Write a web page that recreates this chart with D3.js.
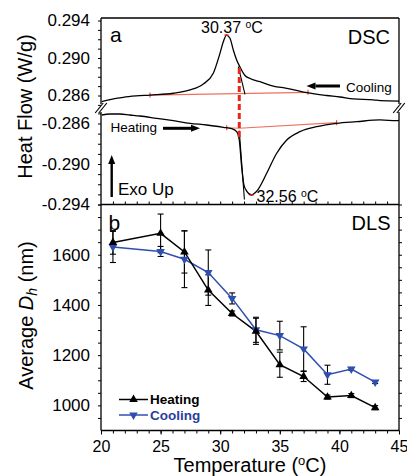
<!DOCTYPE html>
<html><head><meta charset="utf-8">
<script src="https://cdn.jsdelivr.net/npm/d3@7"></script>
<style>
html,body{margin:0;padding:0;background:#fff;}
svg{display:block;font-family:"Liberation Sans",Arial,Helvetica,sans-serif;}
</style></head>
<body>
<svg id="chart" width="407" height="476"></svg>
<script>
// ---------------- DATA ----------------
// DSC cooling scan (upper branch) : temperature (°C), heat flow (W/g)
const dscCoolT = [20.06,20.76,21.87,22.94,24.11,26.07,27.47,28.58,29.42,29.98,30.26,30.53,30.82,31.10,31.38,31.66,32.08,32.50,33.34,34.45,35.58,37.26,38.93,40.05,41.17,42.84,43.41,45.0];
const dscCoolQ = [0.28534,0.28557,0.28581,0.28595,0.28605,0.28624,0.28659,0.28723,0.28837,0.29050,0.29174,0.29245,0.29210,0.29085,0.28979,0.28904,0.28813,0.28781,0.28747,0.28701,0.28677,0.28630,0.28600,0.28584,0.28563,0.28554,0.28545,0.28541];
// DSC heating scan (lower branch)
const dscHeatT = [20.06,20.76,21.59,22.43,23.27,24.67,26.07,27.47,28.87,30.26,30.96,31.38,31.60,31.80,31.99,32.22,32.64,32.95,33.20,33.90,34.74,35.58,36.69,38.10,39.77,41.45,43.41,44.81,45.0];
const dscHeatQ = [-0.28516,-0.28506,-0.28506,-0.28516,-0.28526,-0.28549,-0.28572,-0.28598,-0.28615,-0.28638,-0.28651,-0.28681,-0.28763,-0.29027,-0.29207,-0.29267,-0.29306,-0.29282,-0.29247,-0.29092,-0.28894,-0.28763,-0.28681,-0.28632,-0.28598,-0.28582,-0.28565,-0.28572,-0.28570];
// baselines (red) and onset tangents
const coolBaseT = [24.11, 37.37];
const coolBaseQ = [0.28605, 0.28634];
const heatBaseT = [30.55, 31.60, 39.77];
const heatBaseQ = [-0.28642, -0.28647, -0.28592];
const coolTanT = [31.52, 32.08];
const coolTanQ = [0.28907, 0.28613];
const heatTanT = [31.60, 32.03];
const heatTanQ = [-0.28670, -0.29350];
const onsetT = 31.60;
const onsetQ = [0.28893, -0.28733];
const peakCool = {t:30.53, q:0.29245, label:"30.37"};
const peakHeat = {t:32.64, q:-0.29306, label:"32.56"};

// DLS
const dlsTemps   = [21,25,27,29,31,33,35,37,39,41,43];
const heatingDh  = [1649,1685,1611,1459,1366,1295,1162,1115,1033,1039,991];
const heatingErr = [47,77,84,61,10,52,50,20,8,8,8];
const coolingDh  = [1631,1613,1582,1529,1426,1301,1278,1225,1122,1145,1093];
const coolingErr = [62,20,113,90,22,50,57,88,38,6,6];

// ticks
const xMajorTicks = [20,25,30,35,40,45];
const upTickLabels = [0.286,0.290,0.294];
const lowTickLabels = [-0.286,-0.290,-0.294];
const dlsTickLabels = [1000,1200,1400,1600];

// ---------------- LAYOUT ----------------
const L=101, R=399, T0=18, BRK=108, MID=204.5, B=430.5;
const svg = d3.select("#chart");
const x = d3.scaleLinear().domain([20,45]).range([L,R]);
const yUp = d3.scaleLinear().domain([0.286,0.294]).range([95.5,20.5]);
const yLow = d3.scaleLinear().domain([-0.286,-0.294]).range([123.5,204.5]);
const yD = d3.scaleLinear().domain([900,1800]).range([B,MID]);

const BLUE = "#2f4fb0", RED = "#e8261c", SALMON = "#f0705e";

// clip paths
const defs = svg.append("defs");
defs.append("clipPath").attr("id","cUp").append("rect").attr("x",L).attr("y",T0).attr("width",R-L).attr("height",BRK-T0);
defs.append("clipPath").attr("id","cLow").append("rect").attr("x",L).attr("y",BRK).attr("width",R-L).attr("height",MID-BRK);

// ---------------- AXES ----------------
function styleAxis(g){
  g.select(".domain").remove();
  g.selectAll(".tick line").attr("stroke","#000").attr("stroke-width",1);
  g.selectAll(".tick text").attr("fill","#000").attr("font-family","'Liberation Sans',Arial,sans-serif");
}
const fmt3 = d=>d3.format(".3f")(d).replace("\u2212","-");
// top panel left axis, upper segment
const upTicks = d3.range(0.285,0.29401,0.001).map(v=>+v.toFixed(3));
svg.append("g").attr("transform",`translate(${L},0)`)
  .call(d3.axisLeft(yUp).tickValues(upTicks).tickSize(3).tickPadding(8)
    .tickFormat(d=>upTickLabels.some(v=>Math.abs(v-d)<1e-6)?fmt3(d):""))
  .call(styleAxis).selectAll("text").attr("font-size",17);
const lowTicks = d3.range(-0.285,-0.29401,-0.001).map(v=>+v.toFixed(3));
svg.append("g").attr("transform",`translate(${L},0)`)
  .call(d3.axisLeft(yLow).tickValues(lowTicks).tickSize(3).tickPadding(8)
    .tickFormat(d=>lowTickLabels.some(v=>Math.abs(v-d)<1e-6)?fmt3(d):""))
  .call(styleAxis).selectAll("text").attr("font-size",17);

// ticks on shared boundary (pointing up into DSC panel)
svg.append("g").attr("transform",`translate(0,${MID})`)
  .call(d3.axisTop(x).tickValues(d3.range(21,45)).tickSize(3).tickFormat(""))
  .call(styleAxis);

// bottom x axis
svg.append("g").attr("transform",`translate(0,${B})`)
  .call(d3.axisBottom(x).tickValues(d3.range(20,46)).tickSize(3).tickFormat(""))
  .call(styleAxis);
svg.append("g").attr("transform",`translate(0,${B})`)
  .call(d3.axisBottom(x).tickValues(xMajorTicks).tickSize(4).tickPadding(6).tickFormat(d3.format("d")))
  .call(styleAxis).selectAll("text").attr("font-size",16);

// DLS left axis
svg.append("g").attr("transform",`translate(${L},0)`)
  .call(d3.axisLeft(yD).tickValues(d3.range(950,1801,50)).tickSize(3).tickPadding(8)
    .tickFormat(d=>dlsTickLabels.includes(d)?d:""))
  .call(styleAxis).selectAll("text").attr("font-size",17);
// DLS right axis
svg.append("g").attr("transform",`translate(${R},0)`)
  .call(d3.axisRight(yD).tickValues(d3.range(950,1801,50)).tickSize(3).tickFormat(""))
  .call(styleAxis);

// frames
const frame = svg.append("g").attr("stroke","#000").attr("stroke-width",1.3).attr("fill","none");
frame.append("line").attr("x1",L).attr("x2",R).attr("y1",T0).attr("y2",T0);
frame.append("line").attr("x1",L).attr("x2",R).attr("y1",MID).attr("y2",MID);
frame.append("line").attr("x1",L).attr("x2",R).attr("y1",B).attr("y2",B);
[L,R].forEach(xx=>{
  frame.append("line").attr("x1",xx).attr("x2",xx).attr("y1",T0).attr("y2",BRK-4);
  frame.append("line").attr("x1",xx).attr("x2",xx).attr("y1",BRK+4).attr("y2",B);
  // break marks //
  [-1.8,1.8].forEach(o=>{
    frame.append("line").attr("x1",xx-4+o).attr("y1",BRK+5).attr("x2",xx+4+o).attr("y2",BRK-5).attr("stroke-width",1.2);
  });
});

// ---------------- DSC ----------------
const lineUp = d3.line().x(d=>x(d[0])).y(d=>yUp(d[1])).curve(d3.curveMonotoneX);
const lineLow = d3.line().x(d=>x(d[0])).y(d=>yLow(d[1])).curve(d3.curveMonotoneX);
const straightUp = d3.line().x(d=>x(d[0])).y(d=>yUp(d[1]));
const straightLow = d3.line().x(d=>x(d[0])).y(d=>yLow(d[1]));

const gUp = svg.append("g").attr("clip-path","url(#cUp)");
const gLow = svg.append("g").attr("clip-path","url(#cLow)");

gUp.append("path").datum(d3.zip(coolBaseT,coolBaseQ)).attr("d",straightUp)
  .attr("fill","none").attr("stroke",SALMON).attr("stroke-width",1.2);
gLow.append("path").datum(d3.zip(heatBaseT,heatBaseQ)).attr("d",straightLow)
  .attr("fill","none").attr("stroke",SALMON).attr("stroke-width",1.2);
// baseline end ticks
[[coolBaseT[0],coolBaseQ[0]],[coolBaseT[1],coolBaseQ[1]]].forEach(p=>{
  gUp.append("line").attr("x1",x(p[0])).attr("x2",x(p[0])).attr("y1",yUp(p[1])-2.5).attr("y2",yUp(p[1])+2.5).attr("stroke",RED).attr("stroke-width",1);
});
[[heatBaseT[0],heatBaseQ[0]],[heatBaseT[2],heatBaseQ[2]]].forEach(p=>{
  gLow.append("line").attr("x1",x(p[0])).attr("x2",x(p[0])).attr("y1",yLow(p[1])-2.5).attr("y2",yLow(p[1])+2.5).attr("stroke",RED).attr("stroke-width",1);
});

gUp.append("path").datum(d3.zip(dscCoolT,dscCoolQ)).attr("d",lineUp)
  .attr("fill","none").attr("stroke","#000").attr("stroke-width",1.3);
gLow.append("path").datum(d3.zip(dscHeatT,dscHeatQ)).attr("d",lineLow)
  .attr("fill","none").attr("stroke","#000").attr("stroke-width",1.3);
gUp.append("path").datum(d3.zip(coolTanT,coolTanQ)).attr("d",straightUp)
  .attr("fill","none").attr("stroke","#000").attr("stroke-width",1.1);
gLow.append("path").datum(d3.zip(heatTanT,heatTanQ)).attr("d",straightLow)
  .attr("fill","none").attr("stroke","#000").attr("stroke-width",1.1);

// onset dashed red line
svg.append("line").attr("x1",x(onsetT)).attr("x2",x(onsetT))
  .attr("y1",yUp(onsetQ[0])).attr("y2",yLow(onsetQ[1]))
  .attr("stroke",RED).attr("stroke-width",3).attr("stroke-dasharray","6,3");

// peak markers
svg.append("line").attr("x1",x(peakCool.t)-2).attr("x2",x(peakCool.t)+2).attr("y1",yUp(peakCool.q)).attr("y2",yUp(peakCool.q)).attr("stroke",RED).attr("stroke-width",1.5);
svg.append("line").attr("x1",x(peakHeat.t)-2).attr("x2",x(peakHeat.t)+2).attr("y1",yLow(peakHeat.q)).attr("y2",yLow(peakHeat.q)).attr("stroke",RED).attr("stroke-width",1.5);

// peak labels
function degLabel(tx,ty,num,size){
  const t = svg.append("text").attr("x",tx).attr("y",ty).attr("font-size",size).attr("fill","#000");
  t.append("tspan").text(num+" ");
  t.append("tspan").attr("dy",-5).attr("font-size",size*0.65).text("o");
  t.append("tspan").attr("dy",5).text("C");
}
degLabel(201,33.3,peakCool.label,16);
degLabel(256.5,201.5,peakHeat.label,16);

// panel texts
svg.append("text").attr("x",110).attr("y",41.5).attr("font-size",21).text("a");
svg.append("text").attr("x",390).attr("y",43.5).attr("text-anchor","end").attr("font-size",20).text("DSC");
svg.append("text").attr("x",346).attr("y",91.5).attr("font-size",13.5).text("Cooling");
svg.append("text").attr("x",110.5).attr("y",131.5).attr("font-size",13.5).text("Heating");
svg.append("text").attr("x",118).attr("y",195).attr("font-size",17).text("Exo Up");

// arrows
function arrow(x1,y1,x2,y2,w,hl,hw){
  const a = Math.atan2(y2-y1,x2-x1);
  const bx = x2-hl*Math.cos(a), by = y2-hl*Math.sin(a);
  svg.append("line").attr("x1",x1).attr("y1",y1).attr("x2",bx).attr("y2",by).attr("stroke","#000").attr("stroke-width",w);
  const px = -Math.sin(a)*hw/2, py = Math.cos(a)*hw/2;
  svg.append("path").attr("d",`M${x2},${y2}L${bx+px},${by+py}L${bx-px},${by-py}Z`).attr("fill","#000");
}
arrow(340,86,306.5,86,3,9,7);
arrow(163,128.3,200,128.3,3,9,7);
arrow(111.7,197,111.7,155,2.4,9,7);

// ---------------- DLS ----------------
svg.append("text").attr("x",108.5).attr("y",230).attr("font-size",21).text("b");
svg.append("text").attr("x",390.5).attr("y",229.5).attr("text-anchor","end").attr("font-size",20).text("DLS");

const errG = svg.append("g").attr("stroke","#000").attr("stroke-width",1.1);
function errBars(vals,errs){
  dlsTemps.forEach((t,i)=>{
    const cx = x(t), y1 = yD(vals[i]+errs[i]), y2 = yD(vals[i]-errs[i]);
    errG.append("line").attr("x1",cx).attr("x2",cx).attr("y1",y1).attr("y2",y2);
    errG.append("line").attr("x1",cx-3).attr("x2",cx+3).attr("y1",y1).attr("y2",y1);
    errG.append("line").attr("x1",cx-3).attr("x2",cx+3).attr("y1",y2).attr("y2",y2);
  });
}
errBars(heatingDh,heatingErr);
errBars(coolingDh,coolingErr);

const dlsLine = d3.line().x((d,i)=>x(dlsTemps[i])).y(d=>yD(d));
svg.append("path").datum(coolingDh).attr("d",dlsLine).attr("fill","none").attr("stroke",BLUE).attr("stroke-width",1.5);
svg.append("path").datum(heatingDh).attr("d",dlsLine).attr("fill","none").attr("stroke","#000").attr("stroke-width",1.5);

const triUp = d3.symbol().type(d3.symbolTriangle).size(32);
svg.append("g").selectAll("path").data(coolingDh).join("path")
  .attr("d",triUp).attr("transform",(d,i)=>`translate(${x(dlsTemps[i])},${yD(d)}) rotate(180)`).attr("fill",BLUE);
svg.append("g").selectAll("path").data(heatingDh).join("path")
  .attr("d",triUp).attr("transform",(d,i)=>`translate(${x(dlsTemps[i])},${yD(d)})`).attr("fill","#000");

// legend
const leg = svg.append("g");
leg.append("line").attr("x1",119).attr("x2",148).attr("y1",399.5).attr("y2",399.5).attr("stroke","#000").attr("stroke-width",1.5);
leg.append("path").attr("d",triUp).attr("transform","translate(133.5,399.5)").attr("fill","#000");
leg.append("text").attr("x",150).attr("y",404).attr("font-size",13.5).attr("font-weight","bold").text("Heating");
leg.append("line").attr("x1",119).attr("x2",148).attr("y1",415).attr("y2",415).attr("stroke",BLUE).attr("stroke-width",1.5);
leg.append("path").attr("d",triUp).attr("transform","translate(133.5,415) rotate(180)").attr("fill",BLUE);
leg.append("text").attr("x",150).attr("y",420).attr("font-size",13.5).attr("font-weight","bold").attr("fill","#2a3f9a").text("Cooling");

// ---------------- TITLES ----------------
svg.append("text").attr("transform","translate(32,106.5) rotate(-90)").attr("text-anchor","middle").attr("font-size",20).text("Heat Flow (W/g)");
const yt = svg.append("text").attr("transform","translate(33,315.5) rotate(-90)").attr("text-anchor","middle").attr("font-size",20);
yt.append("tspan").text("Average ");
yt.append("tspan").attr("font-style","italic").text("D");
yt.append("tspan").attr("font-style","italic").attr("font-size",14).attr("dy",4).text("h");
yt.append("tspan").attr("dy",-4).text(" (nm)");
const xt = svg.append("text").attr("x",250).attr("y",472).attr("text-anchor","middle").attr("font-size",20);
xt.append("tspan").text("Temperature (");
xt.append("tspan").attr("font-size",13).attr("dy",-7).text("o");
xt.append("tspan").attr("dy",7).text("C)");
</script>
</body></html>
